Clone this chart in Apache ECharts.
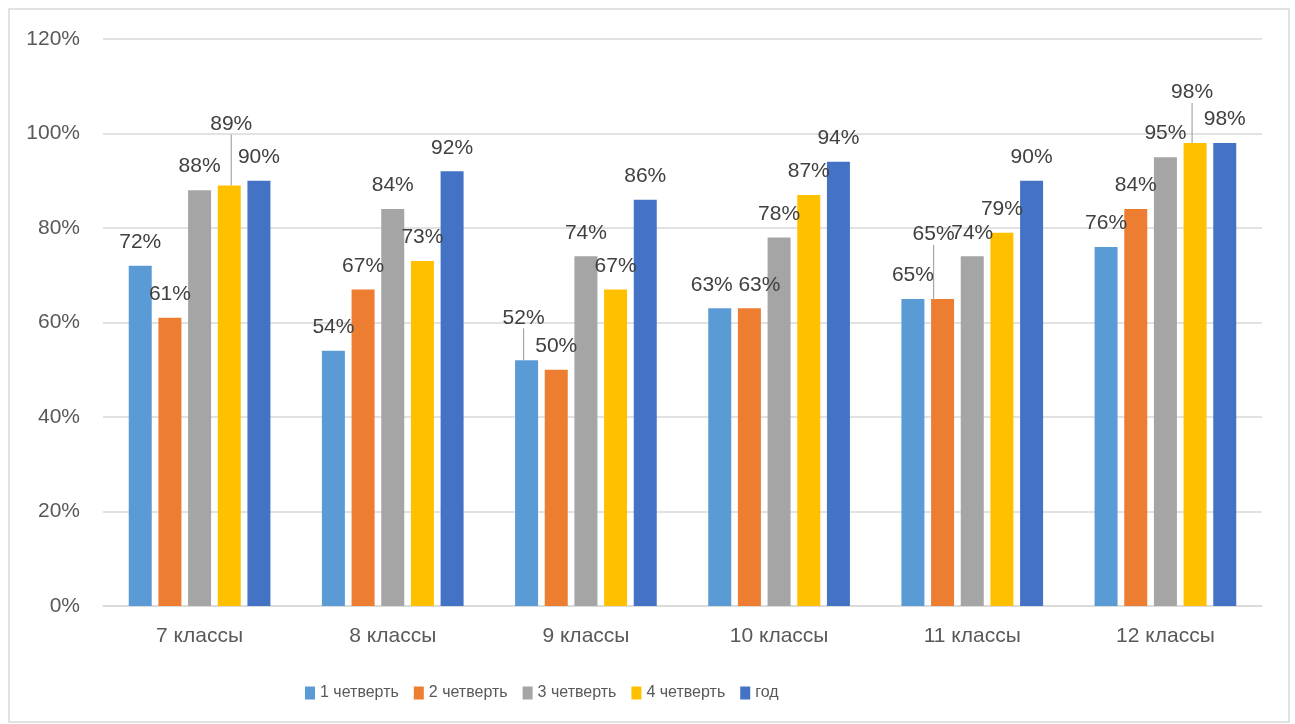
<!DOCTYPE html>
<html>
<head>
<meta charset="utf-8">
<script src="https://cdn.jsdelivr.net/npm/echarts@6/dist/echarts.min.js"></script>
<style>
  html, body { margin: 0; padding: 0; background: #ffffff; }
  #chart { width: 1295px; height: 724px; }
</style>
</head>
<body>
<div id="chart"></div>
<script>
// ---- data ----
const categories = ['7 классы', '8 классы', '9 классы', '10 классы', '11 классы', '12 классы'];
const seriesNames = ['1 четверть', '2 четверть', '3 четверть', '4 четверть', 'год'];
const q1 = [72, 54, 52, 63, 65, 76];
const q2 = [61, 67, 50, 63, 65, 84];
const q3 = [88, 84, 74, 78, 74, 95];
const q4 = [89, 73, 67, 87, 79, 98];
const year = [90, 92, 86, 94, 90, 98];
const yTicks = [0, 20, 40, 60, 80, 100, 120];

// ---- styling / layout (not data) ----
const colors = ['#5B9BD5', '#ED7D31', '#A5A5A5', '#FFC000', '#4472C4'];
// manual label shifts [series][category] = [dx, dy, leaderLine]
const labelShift = {
  '0_2': [-3, -19, true],
  '0_3': [-8, 0, false],
  '1_3': [10, 0, false],
  '1_4': [-9, -41, true],
  '3_0': [2, -38, true],
  '3_5': [-3, -27, true]
};

const allValues = [q1, q2, q3, q4, year];

const series = allValues.map((vals, si) => ({
  name: seriesNames[si],
  type: 'bar',
  barWidth: 23,
  barGap: '29%',
  itemStyle: { color: colors[si] },
  data: vals.map((v, ci) => {
    const s = labelShift[si + '_' + ci];
    const item = { value: v };
    if (s && s[2]) item.labelLine = { show: true };
    return item;
  }),
  label: {
    show: true,
    position: 'top',
    distance: 13,
    formatter: '{c}%',
    fontFamily: 'Liberation Sans',
    fontSize: 21,
    color: '#404040'
  },
  labelLine: {
    show: false,
    lineStyle: { color: '#A6A6A6', width: 1.2 }
  },
  labelLayout: function (p) {
    const s = labelShift[p.seriesIndex + '_' + p.dataIndex];
    if (s) return { dx: s[0], dy: s[1] };
    return {};
  }
}));

const chart = echarts.init(document.getElementById('chart'));
chart.setOption({
  animation: false,
  backgroundColor: '#ffffff',
  color: colors,
  graphic: [{
    type: 'rect',
    shape: { x: 9, y: 9, width: 1280, height: 713 },
    style: { fill: 'none', stroke: '#D9D9D9', lineWidth: 1.5 },
    silent: true,
    z: -10
  }],
  grid: { left: 103, right: 33, top: 39, bottom: 118, containLabel: false },
  legend: {
    left: 300,
    top: 680,
    itemWidth: 10,
    itemHeight: 13,
    itemGap: 15,
    icon: 'rect',
    textStyle: {
      fontFamily: 'Liberation Sans',
      fontSize: 16,
      color: '#595959'
    },
    data: seriesNames
  },
  xAxis: {
    type: 'category',
    data: categories,
    axisLine: { lineStyle: { color: '#D9D9D9', width: 1.5 } },
    axisTick: { show: false },
    axisLabel: {
      margin: 20,
      fontFamily: 'Liberation Sans',
      fontSize: 21,
      color: '#595959'
    }
  },
  yAxis: {
    type: 'value',
    min: yTicks[0],
    max: yTicks[yTicks.length - 1],
    interval: yTicks[1] - yTicks[0],
    axisLine: { show: false },
    axisTick: { show: false },
    splitLine: { lineStyle: { color: '#D9D9D9', width: 1.5 } },
    axisLabel: {
      margin: 23,
      formatter: '{value}%',
      fontFamily: 'Liberation Sans',
      fontSize: 21,
      color: '#595959'
    }
  },
  series: series
});
</script>
</body>
</html>
